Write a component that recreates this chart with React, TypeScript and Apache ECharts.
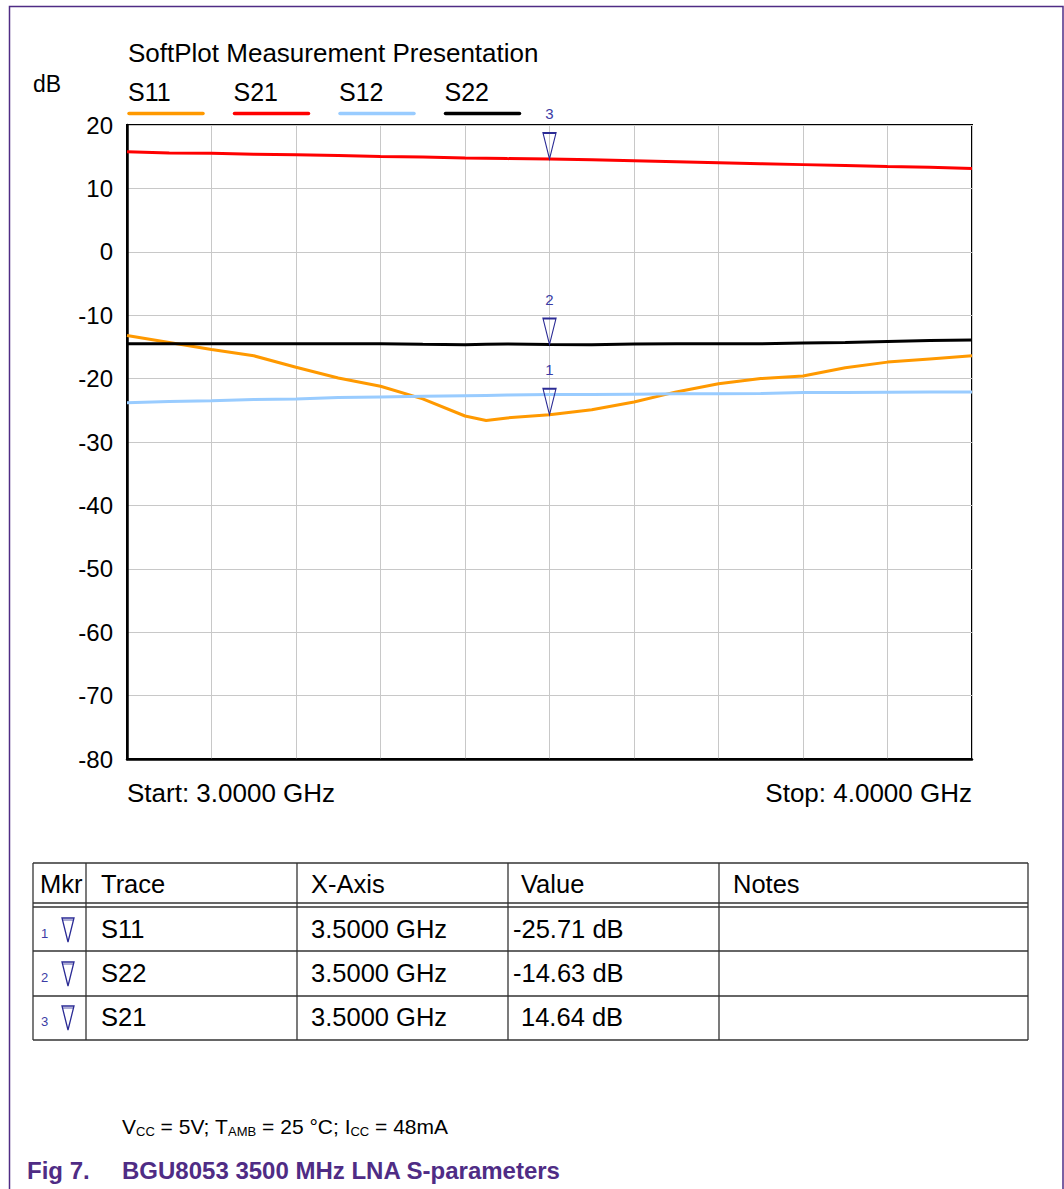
import React, { useEffect, useRef } from "react";
import * as echarts from "echarts";

const TITLE = "SoftPlot Measurement Presentation";
const Y_UNIT = "dB";
const freqs = [3.0, 3.05, 3.1, 3.15, 3.2, 3.25, 3.3, 3.35, 3.4, 3.425, 3.45, 3.5, 3.55, 3.6, 3.65, 3.7, 3.75, 3.8, 3.85, 3.9, 3.95, 4.0];
const s11 = [-13.2, -14.3, -15.4, -16.4, -18.2, -19.9, -21.2, -23.2, -25.9, -26.6, -26.2, -25.71, -24.9, -23.7, -22.1, -20.8, -20.0, -19.6, -18.3, -17.4, -16.9, -16.4];
const s21 = [15.8, 15.6, 15.55, 15.4, 15.3, 15.2, 15.05, 14.95, 14.8, 14.75, 14.7, 14.64, 14.5, 14.35, 14.2, 14.05, 13.9, 13.75, 13.6, 13.45, 13.35, 13.15];
const s12 = [-23.8, -23.6, -23.5, -23.3, -23.2, -23.0, -22.9, -22.8, -22.7, -22.65, -22.6, -22.5, -22.5, -22.45, -22.4, -22.4, -22.35, -22.2, -22.2, -22.15, -22.1, -22.1];
const s22 = [-14.5, -14.5, -14.5, -14.5, -14.5, -14.5, -14.5, -14.6, -14.65, -14.6, -14.55, -14.63, -14.65, -14.55, -14.5, -14.5, -14.5, -14.4, -14.3, -14.15, -14.0, -13.9];
const seriesNames = ["S11", "S21", "S12", "S22"];
const seriesColors = ["#ff9900", "#ff0000", "#99ccff", "#000000"];
const markerIds = [1, 2, 3];
const markerTraces = ["S11", "S22", "S21"];
const markerFreqs = [3.5, 3.5, 3.5];
const markerValues = [-25.71, -14.63, 14.64];
const tableHeaders = ["Mkr", "Trace", "X-Axis", "Value", "Notes"];
const startLabel = "Start: 3.0000 GHz";
const stopLabel = "Stop: 4.0000 GHz";
const figNumber = "Fig 7.";
const figTitle = "BGU8053 3500 MHz LNA S-parameters";

const FONT = "Liberation Sans, Arial, sans-serif";
const PURPLE = "#4f2c85";
const MK_BLUE = "#2b2b95";

export default function App() {
  const ref = useRef<HTMLDivElement>(null);
  useEffect(() => {
    document.body.style.margin = "0";
    if (!ref.current) return;
    const chart = echarts.init(ref.current, undefined, { renderer: "svg" });
    const dataSets = [s11, s21, s12, s22];

    const txt = (text: string, x: number, y: number, fontSize: number, extra: any = {}) => ({
      type: "text",
      x,
      y,
      style: {
        text,
        fontSize,
        fontFamily: FONT,
        fill: "#000",
        align: "left",
        textAlign: "left",
        verticalAlign: "middle",
        textVerticalAlign: "middle",
        ...extra,
      },
    });

    const graphics: any[] = [];
    graphics.push({
      type: "polyline",
      shape: { points: [[9.5, 1189], [9.5, 6.5], [1063, 6.5], [1063, 1189]] },
      style: { stroke: PURPLE, lineWidth: 1.5, fill: "none" },
    });
    graphics.push(txt(TITLE, 128, 53, 26));
    graphics.push(txt(Y_UNIT, 33, 84, 23));
    seriesNames.forEach((n, i) => {
      const x0 = 128 + i * 105.5;
      graphics.push(txt(n, x0, 92, 25));
      graphics.push({
        type: "line",
        shape: { x1: x0 + 1, y1: 113.5, x2: x0 + 75, y2: 113.5 },
        style: { stroke: seriesColors[i], lineWidth: 3.5, lineCap: "round" },
      });
    });

    const colX = [33, 86, 297, 508, 719, 1028];
    const rowY = [863, 905, 951, 996, 1040];
    const tStroke = { stroke: "#333", lineWidth: 1.3 };
    colX.forEach((x) => {
      graphics.push({ type: "line", shape: { x1: x, y1: rowY[0], x2: x, y2: rowY[4] }, style: tStroke });
    });
    [863, 951, 996, 1040].forEach((y) => {
      graphics.push({ type: "line", shape: { x1: colX[0], y1: y, x2: colX[5], y2: y }, style: tStroke });
    });
    graphics.push({ type: "line", shape: { x1: colX[0], y1: 903, x2: colX[5], y2: 903 }, style: tStroke });
    graphics.push({ type: "line", shape: { x1: colX[0], y1: 907, x2: colX[5], y2: 907 }, style: tStroke });
    const headOff = [7, 15, 14, 13, 14];
    tableHeaders.forEach((h, i) => graphics.push(txt(h, colX[i] + headOff[i], 884, 25.5)));
    const rowCenters = [929, 973, 1017];
    markerIds.forEach((id, r) => {
      const cy = rowCenters[r];
      graphics.push(txt(String(id), 41, cy + 4, 13, { fill: "#3b3ba5" }));
      graphics.push({
        type: "polygon",
        shape: { points: [[62, cy - 11], [74, cy - 11], [68, cy + 13]] },
        style: { stroke: MK_BLUE, lineWidth: 1.3, fill: "none" },
      });
      graphics.push({
        type: "line",
        shape: { x1: 62, y1: cy - 9, x2: 74, y2: cy - 9 },
        style: { stroke: MK_BLUE, lineWidth: 0.8 },
      });
      graphics.push(txt(markerTraces[r], 101, cy, 25.5));
      graphics.push(txt(markerFreqs[r].toFixed(4) + " GHz", 311, cy, 25.5));
      const v = markerValues[r];
      graphics.push(txt(v.toFixed(2) + " dB", v < 0 ? 513 : 521, cy, 25.5));
    });

    graphics.push({
      type: "text",
      x: 122,
      y: 1126,
      style: {
        text: "{n|V}{s|CC}{n| = 5V; T}{s|AMB}{n| = 25 °C; I}{s|CC}{n| = 48mA}",
        fontFamily: FONT,
        fill: "#000",
        verticalAlign: "middle",
        textVerticalAlign: "middle",
        rich: {
          n: { fontSize: 21, lineHeight: 24, fontFamily: FONT, verticalAlign: "middle" },
          s: { fontSize: 13, lineHeight: 24, fontFamily: FONT, verticalAlign: "bottom" },
        },
      },
    });
    graphics.push(txt(figNumber, 27, 1170, 24, { fill: PURPLE, fontWeight: "bold" }));
    graphics.push(txt(figTitle, 122, 1170, 24, { fill: PURPLE, fontWeight: "bold" }));

    const series = seriesNames.map((name, i) => {
      const mIdx = markerTraces.indexOf(name);
      const s: any = {
        name,
        type: "line",
        showSymbol: false,
        data: freqs.map((f, k) => [f, dataSets[i][k]]),
        lineStyle: { color: seriesColors[i], width: 3 },
        itemStyle: { color: seriesColors[i] },
        z: 3,
      };
      if (mIdx >= 0) {
        s.markPoint = {
          silent: true,
          symbol: "path://M0,0L14,0L7,26Z",
          symbolSize: [13, 26],
          symbolOffset: [0, -13],
          itemStyle: { color: "rgba(255,255,255,0)", borderColor: MK_BLUE, borderWidth: 1.4 },
          label: {
            show: true,
            position: "top",
            distance: 11,
            formatter: String(markerIds[mIdx]),
            color: "#3b3ba5",
            fontSize: 15,
            fontFamily: FONT,
          },
          data: [{ coord: [markerFreqs[mIdx], markerValues[mIdx]] }],
        };
      }
      return s;
    });

    chart.setOption({
      animation: false,
      backgroundColor: "#fff",
      grid: {
        left: 127,
        top: 125,
        width: 845,
        height: 634,
        show: true,
        borderColor: "#000",
        borderWidth: 2,
        backgroundColor: "transparent",
      },
      xAxis: {
        type: "value",
        min: 3,
        max: 4,
        interval: 0.1,
        axisLine: { show: true, onZero: false, lineStyle: { color: "#000", width: 2.5 } },
        axisTick: { show: false },
        splitLine: { show: true, lineStyle: { color: "#c8c8c8", width: 1 } },
        axisLabel: {
          show: true,
          showMinLabel: true,
          showMaxLabel: true,
          alignMinLabel: "left",
          alignMaxLabel: "right",
          margin: 21,
          fontSize: 26,
          fontFamily: FONT,
          color: "#000",
          formatter: (v: number) =>
            Math.abs(v - 3) < 1e-6 ? startLabel : Math.abs(v - 4) < 1e-6 ? stopLabel : "",
        },
      },
      yAxis: {
        type: "value",
        min: -80,
        max: 20,
        interval: 10,
        axisLine: { show: true, onZero: false, lineStyle: { color: "#000", width: 2.5 } },
        axisTick: { show: false },
        splitLine: { show: true, lineStyle: { color: "#c8c8c8", width: 1 } },
        axisLabel: { margin: 14, fontSize: 24, fontFamily: FONT, color: "#000" },
      },
      series,
      graphic: graphics,
    });
    return () => chart.dispose();
  }, []);
  return (
    <div
      ref={ref}
      style={{ position: "absolute", left: 0, top: 0, width: 1064, height: 1189, background: "#fff" }}
    />
  );
}
